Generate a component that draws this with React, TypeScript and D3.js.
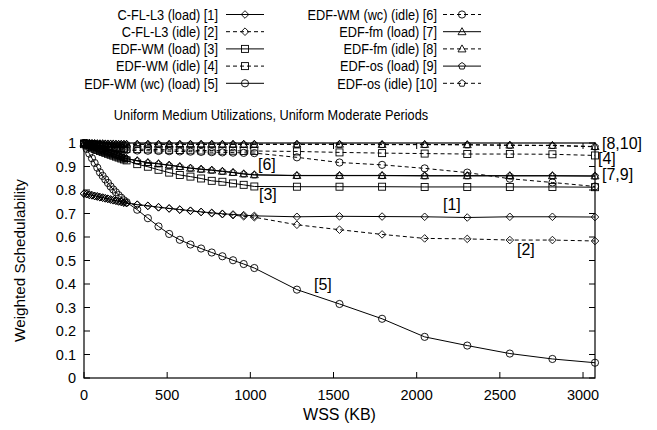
import React from 'react';
import * as d3 from 'd3';

// WSS sample points (KB)
const wss = [0, 16, 32, 48, 64, 80, 96, 112, 128, 144, 160, 176, 192, 208, 224, 240, 256,
  320, 384, 448, 512, 576, 640, 704, 768, 832, 896, 960, 1024,
  1280, 1536, 1792, 2048, 2304, 2560, 2816, 3072];

const cflLoad = [0.785, 0.783, 0.780, 0.778, 0.775, 0.773, 0.770, 0.768, 0.765, 0.763, 0.760, 0.757, 0.755, 0.752, 0.750, 0.747, 0.745,
  0.738, 0.733, 0.727, 0.722, 0.717, 0.712, 0.707, 0.703, 0.699, 0.696, 0.693, 0.690,
  0.686, 0.688, 0.687, 0.686, 0.683, 0.686, 0.686, 0.685];
const cflIdle = [0.784, 0.782, 0.779, 0.777, 0.774, 0.772, 0.769, 0.767, 0.764, 0.762, 0.759, 0.756, 0.754, 0.751, 0.749, 0.746, 0.744,
  0.737, 0.732, 0.726, 0.721, 0.716, 0.711, 0.706, 0.701, 0.697, 0.693, 0.688, 0.684,
  0.652, 0.631, 0.611, 0.594, 0.592, 0.587, 0.587, 0.583];
const wmLoad = [0.995, 0.990, 0.985, 0.980, 0.975, 0.970, 0.966, 0.962, 0.958, 0.954, 0.950, 0.946, 0.942, 0.938, 0.934, 0.930, 0.926,
  0.910, 0.899, 0.886, 0.874, 0.864, 0.857, 0.849, 0.839, 0.835, 0.828, 0.822, 0.815,
  0.814, 0.814, 0.814, 0.813, 0.813, 0.813, 0.813, 0.812];
const wmIdle = [0.998, 0.997, 0.996, 0.995, 0.993, 0.992, 0.990, 0.989, 0.987, 0.986, 0.984, 0.983, 0.981, 0.980, 0.978, 0.977, 0.975,
  0.974, 0.973, 0.972, 0.971, 0.970, 0.969, 0.968, 0.968, 0.967, 0.967, 0.966, 0.966,
  0.964, 0.960, 0.957, 0.955, 0.953, 0.953, 0.952, 0.947];
const wcLoad = [1.000, 0.975, 0.955, 0.935, 0.915, 0.895, 0.875, 0.860, 0.845, 0.830, 0.815, 0.802, 0.790, 0.778, 0.767, 0.756, 0.748,
  0.716, 0.680, 0.645, 0.613, 0.588, 0.568, 0.551, 0.534, 0.518, 0.501, 0.485, 0.468,
  0.376, 0.315, 0.252, 0.175, 0.138, 0.104, 0.081, 0.065];
const wcIdle = [1.000, 0.998, 0.996, 0.994, 0.992, 0.990, 0.988, 0.986, 0.984, 0.982, 0.980, 0.978, 0.977, 0.975, 0.973, 0.972, 0.970,
  0.968, 0.967, 0.966, 0.965, 0.964, 0.963, 0.962, 0.961, 0.960, 0.959, 0.958, 0.957,
  0.939, 0.917, 0.907, 0.892, 0.874, 0.848, 0.832, 0.815];
const fmLoad = [0.998, 0.994, 0.990, 0.986, 0.982, 0.978, 0.974, 0.970, 0.966, 0.962, 0.958, 0.954, 0.950, 0.946, 0.942, 0.938, 0.934,
  0.925, 0.917, 0.912, 0.906, 0.900, 0.893, 0.889, 0.885, 0.880, 0.875, 0.869, 0.865,
  0.862, 0.862, 0.862, 0.861, 0.861, 0.861, 0.861, 0.860];
const fmIdle = [1.000, 0.999, 0.999, 0.998, 0.998, 0.997, 0.997, 0.997, 0.996, 0.996, 0.996, 0.996, 0.995, 0.995, 0.995, 0.995, 0.995,
  0.995, 0.995, 0.995, 0.995, 0.995, 0.995, 0.995, 0.995, 0.995, 0.995, 0.995, 0.995,
  0.995, 0.995, 0.994, 0.994, 0.993, 0.991, 0.990, 0.985];
const osLoad = [0.998, 0.993, 0.989, 0.985, 0.981, 0.977, 0.973, 0.969, 0.965, 0.961, 0.957, 0.953, 0.949, 0.945, 0.941, 0.937, 0.933,
  0.924, 0.916, 0.911, 0.905, 0.899, 0.893, 0.888, 0.884, 0.879, 0.874, 0.868, 0.864,
  0.861, 0.861, 0.861, 0.860, 0.860, 0.860, 0.860, 0.859];
const osIdle = [1.000, 0.999, 0.998, 0.998, 0.997, 0.997, 0.996, 0.996, 0.996, 0.995, 0.995, 0.995, 0.995, 0.994, 0.994, 0.994, 0.994,
  0.994, 0.994, 0.994, 0.994, 0.994, 0.994, 0.994, 0.994, 0.994, 0.994, 0.994, 0.994,
  0.994, 0.994, 0.993, 0.993, 0.992, 0.990, 0.989, 0.984];

const xTicks = [0, 500, 1000, 1500, 2000, 2500, 3000];
const yTicks = [0, 0.1, 0.2, 0.3, 0.4, 0.5, 0.6, 0.7, 0.8, 0.9, 1];

const series = [
  { label: 'C-FL-L3 (load) [1]', values: cflLoad, dashed: false, marker: 'diamond' },
  { label: 'C-FL-L3 (idle) [2]', values: cflIdle, dashed: true, marker: 'diamond' },
  { label: 'EDF-WM (load) [3]', values: wmLoad, dashed: false, marker: 'square' },
  { label: 'EDF-WM (idle) [4]', values: wmIdle, dashed: true, marker: 'square' },
  { label: 'EDF-WM (wc) (load) [5]', values: wcLoad, dashed: false, marker: 'circle' },
  { label: 'EDF-WM (wc) (idle) [6]', values: wcIdle, dashed: true, marker: 'circle' },
  { label: 'EDF-fm (load) [7]', values: fmLoad, dashed: false, marker: 'triangle' },
  { label: 'EDF-fm (idle) [8]', values: fmIdle, dashed: true, marker: 'triangle' },
  { label: 'EDF-os (load) [9]', values: osLoad, dashed: false, marker: 'pentagon' },
  { label: 'EDF-os (idle) [10]', values: osIdle, dashed: true, marker: 'pentagon' },
];

const curveLabels = [
  { text: '[6]', x: 258, y: 169.5 },
  { text: '[3]', x: 259, y: 199.5 },
  { text: '[1]', x: 443, y: 209.5 },
  { text: '[2]', x: 517, y: 254.5 },
  { text: '[5]', x: 314, y: 289.5 },
  { text: '[8,10]', x: 602, y: 149 },
  { text: '[4]', x: 598, y: 164 },
  { text: '[7,9]', x: 602, y: 180 },
];

const FONT = '"Liberation Sans", Arial, Helvetica, sans-serif';
const x = d3.scaleLinear().domain([0, 3072]).range([84, 595]);
const y = d3.scaleLinear().domain([0, 1]).range([378, 143]);
const DASH = '4,3';

function Marker({ type, cx, cy }: { type: string; cx: number; cy: number }) {
  const common = { fill: 'none', stroke: '#000', strokeWidth: 0.9 };
  if (type === 'circle') return <circle cx={cx} cy={cy} r={3.6} {...common} />;
  if (type === 'square') return <rect x={cx - 3.5} y={cy - 3.5} width={7} height={7} {...common} />;
  if (type === 'diamond')
    return <path d={`M${cx},${cy - 3.8}L${cx + 3.8},${cy}L${cx},${cy + 3.8}L${cx - 3.8},${cy}Z`} {...common} />;
  if (type === 'triangle')
    return <path d={`M${cx},${cy - 4}L${cx + 4},${cy + 3}L${cx - 4},${cy + 3}Z`} {...common} />;
  const pts = d3.range(5).map(k => {
    const a = -Math.PI / 2 + (k * 2 * Math.PI) / 5;
    return [cx + 3.6 * Math.cos(a), cy + 3.6 * Math.sin(a)];
  });
  return <path d={'M' + pts.map(p => p.join(',')).join('L') + 'Z'} {...common} />;
}

// narrow text, like the condensed key and title font of the original
function NarrowText({ x, y, anchor, children }: { x: number; y: number; anchor: string; children: React.ReactNode }) {
  return (
    <text transform={`translate(${x},${y}) scale(0.85,1)`} dy="0.35em" textAnchor={anchor} fontSize={15}>
      {children}
    </text>
  );
}

export default function App() {
  const line = d3.line<number>().x((_, i) => x(wss[i])).y(d => y(d));
  const left = 84, right = 595, top = 143, bottom = 378;

  return (
    <svg width={657} height={430} style={{ position: 'absolute', left: 0, top: 0, background: '#fff' }}
      fontFamily={FONT}>
      <rect width={657} height={430} fill="#fff" />

      {/* legend */}
      {series.map((s, i) => {
        const col = i < 5 ? 0 : 1;
        const row = i % 5;
        const tx = col === 0 ? 218 : 437;
        const lx0 = col === 0 ? 226 : 443;
        const lx1 = lx0 + 38;
        const ly = 14.5 + row * 17.2;
        return (
          <g key={s.label}>
            <NarrowText x={tx} y={ly} anchor="end">{s.label}</NarrowText>
            <line x1={lx0} x2={lx1} y1={ly} y2={ly} stroke="#000" strokeWidth={1}
              strokeDasharray={s.dashed ? DASH : undefined} />
            <Marker type={s.marker} cx={(lx0 + lx1) / 2} cy={ly} />
          </g>
        );
      })}

      {/* title */}
      <NarrowText x={271} y={115} anchor="middle">
        Uniform Medium Utilizations, Uniform Moderate Periods
      </NarrowText>

      {/* series */}
      {series.map(s => (
        <g key={s.label}>
          <path d={line(s.values) || ''} fill="none" stroke="#000" strokeWidth={1}
            strokeDasharray={s.dashed ? DASH : undefined} />
          {s.values.map((v, i) => (
            <Marker key={i} type={s.marker} cx={x(wss[i])} cy={y(v)} />
          ))}
        </g>
      ))}

      {/* frame and ticks */}
      <rect x={left} y={top} width={right - left} height={bottom - top} fill="none" stroke="#000" strokeWidth={1.2} />
      {xTicks.map(t => (
        <g key={'x' + t}>
          <line x1={x(t)} x2={x(t)} y1={bottom} y2={bottom - 6} stroke="#000" />
          <line x1={x(t)} x2={x(t)} y1={top} y2={top + 6} stroke="#000" />
          <text x={x(t)} y={400} textAnchor="middle" fontSize={14.5}>{t}</text>
        </g>
      ))}
      {yTicks.map(t => (
        <g key={'y' + t}>
          <line x1={left} x2={left + 6} y1={y(t)} y2={y(t)} stroke="#000" />
          <line x1={right} x2={right - 6} y1={y(t)} y2={y(t)} stroke="#000" />
          <text x={76} y={y(t)} dy="0.35em" textAnchor="end" fontSize={14.5}>{d3.format('~g')(t)}</text>
        </g>
      ))}

      {/* curve labels */}
      {curveLabels.map(l => (
        <text key={l.text} x={l.x} y={l.y} fontSize={16}>{l.text}</text>
      ))}

      {/* axis labels */}
      <text x={(left + right) / 2} y={420} textAnchor="middle" fontSize={16}>WSS (KB)</text>
      <text transform={`translate(20,${(top + bottom) / 2}) rotate(-90)`} textAnchor="middle" dy="0.35em"
        fontSize={15.3}>Weighted Schedulability</text>
    </svg>
  );
}
